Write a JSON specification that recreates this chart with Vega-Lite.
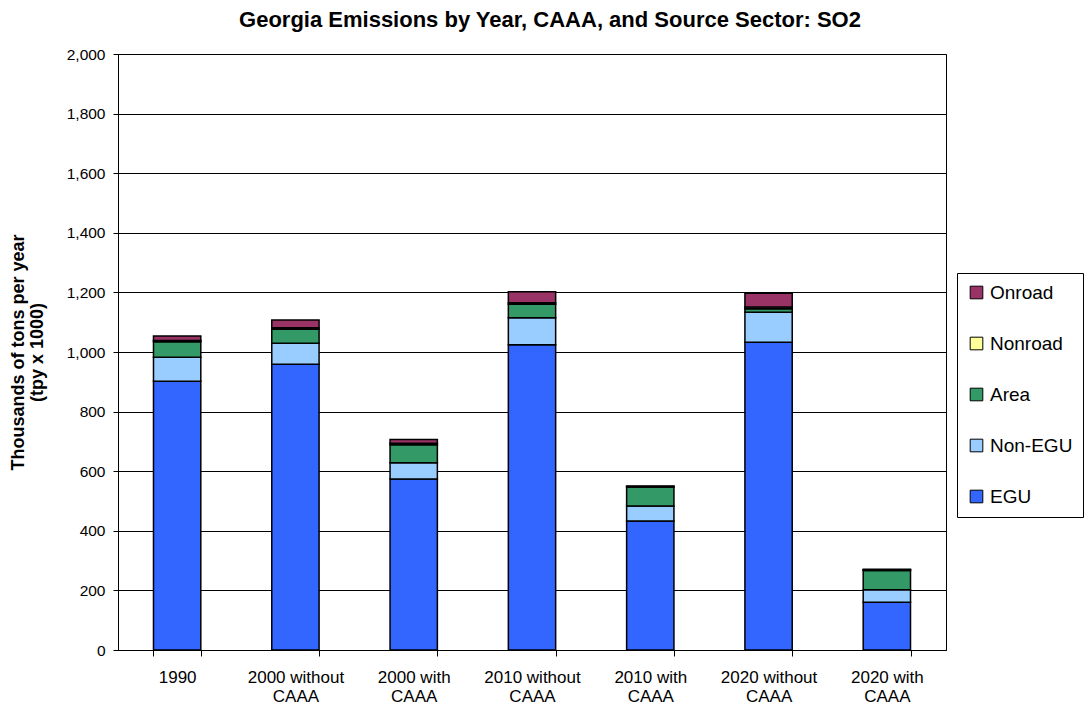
{
  "$schema": "https://vega.github.io/schema/vega-lite/v6.json",
  "autosize": {"type": "none"},
  "padding": {"left": 118, "top": 54, "right": 141, "bottom": 59},
  "width": 828,
  "height": 596,
  "background": "white",
  "config": {
    "font": "Liberation Sans",
    "view": {"stroke": "black", "strokeWidth": 1}
  },
  "title": {
    "text": "Georgia Emissions by Year, CAAA, and Source Sector: SO2",
    "fontSize": 22,
    "fontWeight": "bold",
    "font": "Liberation Sans",
    "color": "black",
    "anchor": "middle",
    "dx": 18,
    "offset": 15
  },
  "data": {
    "values": [
      {"scenario": "1990", "sector": "EGU", "value": 902},
      {"scenario": "1990", "sector": "Non-EGU", "value": 80},
      {"scenario": "1990", "sector": "Area", "value": 52},
      {"scenario": "1990", "sector": "Nonroad", "value": 5},
      {"scenario": "1990", "sector": "Onroad", "value": 15},
      {"scenario": "2000 without CAAA", "sector": "EGU", "value": 959},
      {"scenario": "2000 without CAAA", "sector": "Non-EGU", "value": 70},
      {"scenario": "2000 without CAAA", "sector": "Area", "value": 47},
      {"scenario": "2000 without CAAA", "sector": "Nonroad", "value": 5},
      {"scenario": "2000 without CAAA", "sector": "Onroad", "value": 26},
      {"scenario": "2000 with CAAA", "sector": "EGU", "value": 574},
      {"scenario": "2000 with CAAA", "sector": "Non-EGU", "value": 54},
      {"scenario": "2000 with CAAA", "sector": "Area", "value": 61},
      {"scenario": "2000 with CAAA", "sector": "Nonroad", "value": 5},
      {"scenario": "2000 with CAAA", "sector": "Onroad", "value": 12},
      {"scenario": "2010 without CAAA", "sector": "EGU", "value": 1024},
      {"scenario": "2010 without CAAA", "sector": "Non-EGU", "value": 91},
      {"scenario": "2010 without CAAA", "sector": "Area", "value": 45},
      {"scenario": "2010 without CAAA", "sector": "Nonroad", "value": 5},
      {"scenario": "2010 without CAAA", "sector": "Onroad", "value": 37},
      {"scenario": "2010 with CAAA", "sector": "EGU", "value": 433},
      {"scenario": "2010 with CAAA", "sector": "Non-EGU", "value": 50},
      {"scenario": "2010 with CAAA", "sector": "Area", "value": 64},
      {"scenario": "2010 with CAAA", "sector": "Nonroad", "value": 2},
      {"scenario": "2010 with CAAA", "sector": "Onroad", "value": 1},
      {"scenario": "2020 without CAAA", "sector": "EGU", "value": 1033},
      {"scenario": "2020 without CAAA", "sector": "Non-EGU", "value": 100},
      {"scenario": "2020 without CAAA", "sector": "Area", "value": 12},
      {"scenario": "2020 without CAAA", "sector": "Nonroad", "value": 6},
      {"scenario": "2020 without CAAA", "sector": "Onroad", "value": 46},
      {"scenario": "2020 with CAAA", "sector": "EGU", "value": 160},
      {"scenario": "2020 with CAAA", "sector": "Non-EGU", "value": 42},
      {"scenario": "2020 with CAAA", "sector": "Area", "value": 65},
      {"scenario": "2020 with CAAA", "sector": "Nonroad", "value": 2},
      {"scenario": "2020 with CAAA", "sector": "Onroad", "value": 2}
    ]
  },
  "transform": [
    {"calculate": "indexof(['EGU', 'Non-EGU', 'Area', 'Nonroad', 'Onroad'], datum.sector)", "as": "stackOrder"}
  ],
  "mark": {"type": "bar", "stroke": "black", "strokeWidth": 1.5},
  "encoding": {
    "x": {
      "field": "scenario",
      "type": "nominal",
      "sort": null,
      "scale": {"paddingInner": 0.6, "paddingOuter": 0.3},
      "axis": {
        "title": null,
        "labelAngle": 0,
        "labelFontSize": 17,
        "labelColor": "black",
        "labelFont": "Liberation Sans",
        "labelExpr": "!isValid(datum.value) ? '' : (datum.value == '1990' ? '1990' : [replace(datum.value, ' CAAA', ''), 'CAAA'])",
        "labelLineHeight": 19,
        "labelPadding": 13,
        "tickBand": "extent",
        "tickColor": "black",
        "tickSize": 6,
        "domainColor": "black",
        "grid": false
      }
    },
    "y": {
      "field": "value",
      "type": "quantitative",
      "aggregate": "sum",
      "stack": "zero",
      "scale": {"domain": [0, 2000], "nice": false},
      "axis": {
        "title": ["Thousands of tons per year", "(tpy x 1000)"],
        "titleFontSize": 18,
        "titleFontWeight": "bold",
        "titleColor": "black",
        "titleFont": "Liberation Sans",
        "titlePadding": 20,
        "titleLineHeight": 19,
        "values": [0, 200, 400, 600, 800, 1000, 1200, 1400, 1600, 1800, 2000],
        "format": ",.0f",
        "labelFontSize": 15.5,
        "labelColor": "black",
        "labelFont": "Liberation Sans",
        "labelPadding": 8,
        "tickColor": "black",
        "tickSize": 5,
        "domainColor": "black",
        "grid": true,
        "gridColor": "black",
        "gridOpacity": 1
      }
    },
    "color": {
      "field": "sector",
      "type": "nominal",
      "scale": {
        "domain": ["EGU", "Non-EGU", "Area", "Nonroad", "Onroad"],
        "range": ["#3366FF", "#99CCFF", "#339966", "#FFFF99", "#993366"]
      },
      "legend": {
        "title": null,
        "orient": "none",
        "legendX": 839,
        "legendY": 219,
        "values": ["Onroad", "Nonroad", "Area", "Non-EGU", "EGU"],
        "strokeColor": "black",
        "padding": 10,
        "labelFontSize": 19,
        "labelColor": "black",
        "labelFont": "Liberation Sans",
        "symbolType": "square",
        "symbolSize": 160,
        "symbolStrokeColor": "black",
        "symbolStrokeWidth": 1,
        "symbolOpacity": 1,
        "rowPadding": 31,
        "labelOffset": 4
      }
    },
    "order": {"field": "stackOrder", "type": "quantitative", "sort": "ascending"}
  }
}
